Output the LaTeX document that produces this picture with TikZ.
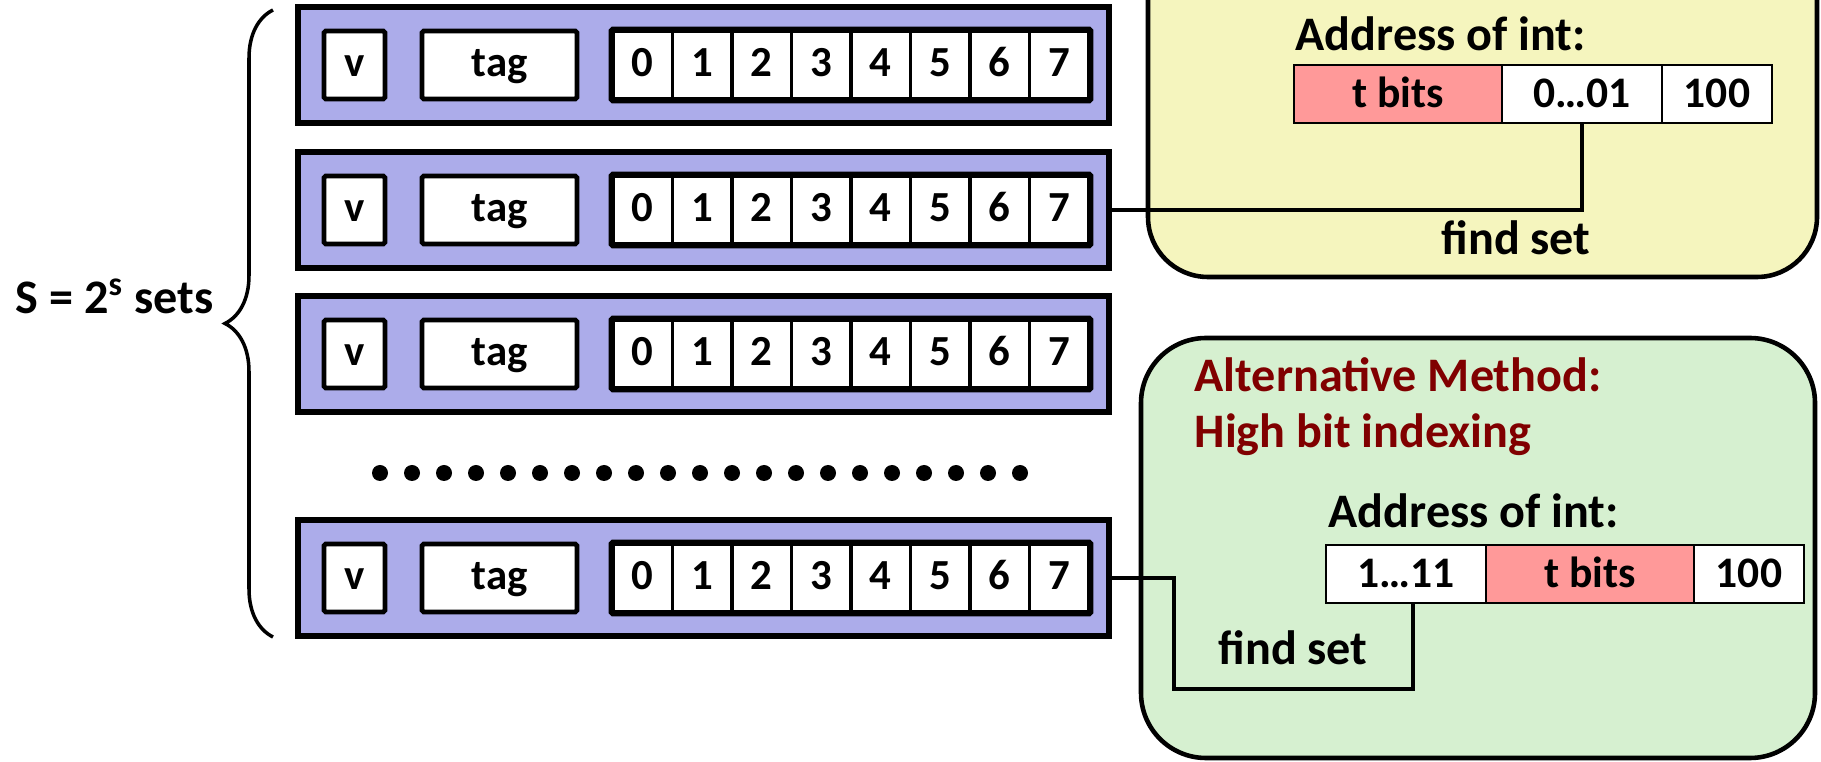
\documentclass[tikz,border=0pt]{standalone}
\usepackage{fontspec}
\setmainfont{Carlito}
\usepackage{tikz}
\usetikzlibrary{positioning, calc, decorations.pathreplacing}
\definecolor{lavanda}{RGB}{172,172,234}
\definecolor{amarillito}{RGB}{245,245,190}
\definecolor{verdecito}{RGB}{214,240,208}
\definecolor{rosita}{RGB}{255,153,153}
\definecolor{granate}{RGB}{128,0,0}
\tikzset{>=stealth,
	setbox/.style={draw, line width=1.5pt, fill=lavanda, minimum width=8.11cm, minimum height=1.16cm, inner sep=0pt},
	linebox/.style={draw, line width=1.4pt, fill=white, minimum height=0.68cm, inner sep=0pt, rounded corners=0.5pt, text height=1.45ex, text depth=0.05ex, font=\bfseries\fontsize{12.2}{14}\selectfont},
	cellbox/.style={linebox, line width=1.1pt, minimum width=0.595cm, rounded corners=0pt},
	fieldbox/.style={draw, line width=0.7pt, outer sep=0pt, minimum height=0.58cm, inner sep=0pt, text height=1.6ex, text depth=0.05ex, font=\bfseries\fontsize{12.4}{14}\selectfont},
	txt/.style={font=\bfseries\fontsize{13.7}{16}\selectfont, inner sep=0pt},
	panel/.style={draw, line width=1.3pt},
	wire/.style={line width=0.9pt}}

\begin{document}
\begin{tikzpicture}
				\useasboundingbox (0,0) rectangle (18.21,7.62);

				% the two address panels
				\draw [panel, fill=amarillito, rounded corners=0.6cm] (11.48,4.85) rectangle (18.17,8.4);
				\draw [panel, fill=verdecito, rounded corners=0.65cm] (11.41,0.04) rectangle (18.15,4.24);

				% sets
				\foreach \r/\y in {1/6.97, 2/5.52, 3/4.08, 4/1.84}{
					\node [setbox] (row\r) at (7.035,\y) {};
					\node [linebox, minimum width=0.61cm] (v\r) at (3.545,\y) {v};
					\node [linebox, minimum width=1.55cm] (tag\r) at (4.995,\y) {tag};
					\foreach \i in {0,...,7}
						\node [cellbox] (c\r-\i) at ({6.13+0.595*(\i+0.5)},\y) {\i};
					\draw [line width=1.4pt, rounded corners=0.5pt] (c\r-0.north west) rectangle (c\r-7.south east);
				}

				\foreach \k in {0,...,20}
					\fill ({3.80+0.32*\k},2.89) circle [radius=0.08];

				\draw [line width=1pt, decoration={brace, amplitude=0.48cm}, decorate] (2.73,1.25) -- (2.73,7.52);
				\node [txt, anchor=base west] (nsets) at (0.15,4.48) {S = 2\textsuperscript{s} sets};

				% middle bit indexing
				\node [txt, anchor=base west] (addr1) at (12.95,7.11) {Address of int:};
				\node [fieldbox, fill=rosita, minimum width=2.08cm] (tb1) at (13.98,6.68) {t bits};
				\node [fieldbox, fill=white, minimum width=1.60cm, right=0pt of tb1] (mid1) {0…01};
				\node [fieldbox, fill=white, minimum width=1.10cm, right=0pt of mid1] (off1) {100};
				\draw [wire] (mid1.south) |- (row2.east);
				\node [txt, anchor=base] (find1) at (15.16,5.07) {find set};

				% high bit indexing
				\node [txt, anchor=base west, granate] (alt) at (11.94,3.70) {Alternative Method:};
				\node [txt, anchor=base west, granate] (hbi) at (11.94,3.14) {High bit indexing};
				\node [txt, anchor=base west] (addr2) at (13.28,2.34) {Address of int:};
				\node [fieldbox, fill=white, minimum width=1.60cm] (hi2) at (14.06,1.88) {1…11};
				\node [fieldbox, fill=rosita, minimum width=2.08cm, right=0pt of hi2] (tb2) {t bits};
				\node [fieldbox, fill=white, minimum width=1.10cm, right=0pt of tb2] (off2) {100};
				\coordinate (gturn) at (11.74,0.73);
				\draw [wire] (row4.east) -| (gturn) -| ($(hi2.south)+(0.07,0)$);
				\node [txt, anchor=base] (find2) at (12.93,0.97) {find set};
\end{tikzpicture}
\end{document}
